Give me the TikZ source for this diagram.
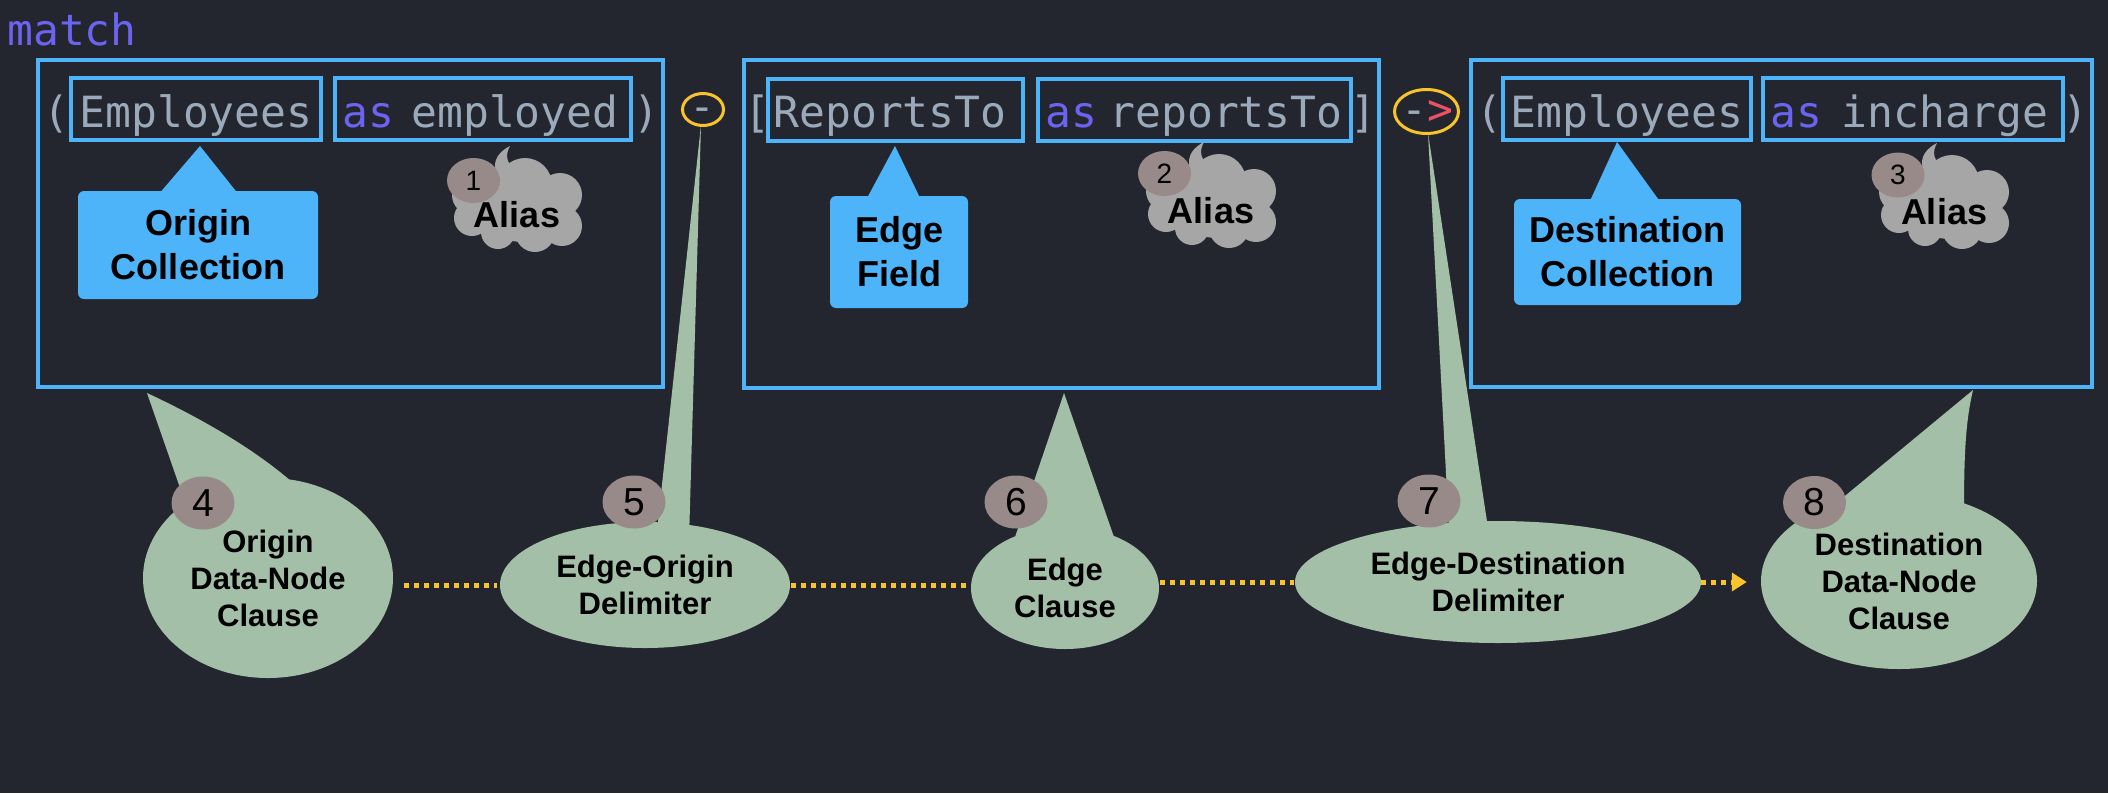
\documentclass[tikz,border=0pt]{standalone}
\usepackage{fontspec}
\setmainfont{Liberation Sans}
\newfontfamily\codefont{DejaVu Sans Mono}
\usetikzlibrary{shapes.geometric,arrows.meta,calc}
\definecolor{bg}{RGB}{35,38,46}
\definecolor{boxblue}{RGB}{77,180,250}
\definecolor{codegray}{RGB}{155,170,186}
\definecolor{kwpurple}{RGB}{108,100,240}
\definecolor{arrred}{RGB}{238,80,100}
\definecolor{delimyellow}{RGB}{248,195,45}
\definecolor{bubblegreen}{RGB}{163,191,168}
\definecolor{numcircle}{RGB}{153,138,138}
\definecolor{cloudgray}{RGB}{166,166,166}
\pgfdeclarelayer{backdrop}
\pgfdeclarelayer{wedges}
\pgfsetlayers{backdrop,wedges,main}
\tikzset{
  code/.style={font=\codefont\fontsize{43}{43}\selectfont, text=codegray, inner sep=0pt, anchor=base},
  kw/.style={code, text=kwpurple},
  bluebox/.style={draw=boxblue, line width=4pt, rectangle, inner sep=0pt},
  callout/.style={fill=boxblue, rectangle, rounded corners=6pt, inner sep=0pt, align=center,
    font=\bfseries\fontsize{36}{44}\selectfont, text=black},
  delimring/.style={draw=delimyellow, line width=3pt, inner sep=0pt, ellipse},
  bubble/.style={ellipse, fill=bubblegreen, inner sep=0pt, align=center,
    font=\bfseries\fontsize{31}{37}\selectfont, text=black},
  numtop/.style={ellipse, fill=numcircle, inner sep=0pt, minimum width=53pt, minimum height=45pt,
    font=\fontsize{28}{28}\selectfont, text=black},
  numbot/.style={ellipse, fill=numcircle, inner sep=0pt, minimum width=63pt, minimum height=53pt,
    font=\fontsize{39}{39}\selectfont, text=black},
  aliastext/.style={font=\bfseries\fontsize{36}{36}\selectfont, text=black, inner sep=0pt, anchor=base},
  dotline/.style={delimyellow, line width=5pt, dash pattern=on 5pt off 5pt},
}
% cloud drawn around a reference point (the Alias text centre of cloud 1 = (517,204))
\newcommand\DrawAliasCloud[2]{%
  \begin{scope}[shift={(#1,#2)}]
    \fill[cloudgray] (8,8) ellipse (50pt and 30pt);
    \fill[cloudgray] (8,-19) circle (27pt);
    \fill[cloudgray] (43,-9) circle (22pt);
    \fill[cloudgray] (45,22) circle (20pt);
    \fill[cloudgray] (18,28) circle (20pt);
    \fill[cloudgray] (-19,28) circle (17pt);
    \fill[cloudgray] (-45,14) circle (18pt);
    \fill[cloudgray] (-45,-9) circle (20pt);
    \fill[cloudgray] (-21,-15) circle (20pt);
    \fill[cloudgray] (-21,-32) .. controls (-25,-44) and (-17,-53) .. (-7,-58)
       .. controls (-12,-49) and (-11,-41) .. (-1,-34) -- cycle;
  \end{scope}}
\begin{document}
\begin{tikzpicture}[x=1pt,y=-1pt]
\useasboundingbox (0,0) rectangle (2108,793);
\begin{pgfonlayer}{backdrop}
\fill[bg] (0,0) rectangle (2108,793);
\end{pgfonlayer}

% keyword
\node[kw] (match) at (72,45) {match};

% outer boxes
\node[bluebox, minimum width=625pt, minimum height=327pt] (o1) at (350.5,223.5) {};
\node[bluebox, minimum width=635pt, minimum height=328pt] (o2) at (1061.5,224) {};
\node[bluebox, minimum width=621pt, minimum height=327pt] (o3) at (1781.5,223.5) {};

% inner boxes
\node[bluebox, minimum width=250pt, minimum height=62pt] (ia) at (196,109) {};
\node[bluebox, minimum width=296pt, minimum height=62pt] (ib) at (483,109) {};
\node[bluebox, minimum width=255pt, minimum height=62pt] (ic) at (895.5,110) {};
\node[bluebox, minimum width=313pt, minimum height=62pt] (id) at (1194.5,110) {};
\node[bluebox, minimum width=248pt, minimum height=62pt] (ie) at (1627,109) {};
\node[bluebox, minimum width=300pt, minimum height=62pt] (if) at (1913,109) {};

% code text
\node[code] (lp1) at (56,127) {(};
\node[code] (emp1) at (196,127) {Employees};
\node[kw] (as1) at (368,127) {as};
\node[code] (al1) at (515,127) {employed};
\node[code] (rp1) at (646,127) {)};
\node[code] (lb) at (757,127) {[};
\node[code] (rep) at (890,127) {ReportsTo};
\node[kw] (as2) at (1071,127) {as};
\node[code] (al2) at (1226,127) {reportsTo};
\node[code] (rb) at (1363,127) {]};
\node[code] (lp3) at (1489,127) {(};
\node[code] (emp3) at (1627,127) {Employees};
\node[kw] (as3) at (1796,127) {as};
\node[code] (al3) at (1945,127) {incharge};
\node[code] (rp3) at (2075,127) {)};

% delimiters
\node[delimring, minimum width=41pt, minimum height=32pt] (d1) at (703,109.5) {};
\node[code] (d1t) at (702,121) {-};
\node[delimring, minimum width=64pt, minimum height=44pt] (d2) at (1426.5,111.5) {};
\node[code] (d2t) at (1427,124) {-\textcolor{arrred}{>}};

% blue callouts
\node[callout, minimum width=240pt, minimum height=108pt] (oc) at (198,245) {Origin\\Collection};
\fill[boxblue] (200,146) -- (158,195) -- (239,195) -- cycle;
\node[callout, minimum width=138pt, minimum height=112pt] (ef) at (899,252) {Edge\\Field};
\fill[boxblue] (895,146) -- (866,200) -- (921,200) -- cycle;
\node[callout, minimum width=227pt, minimum height=106pt] (dc) at (1627.5,252) {Destination\\Collection};
\fill[boxblue] (1617,142) -- (1589,203) -- (1661,203) -- cycle;

% alias clouds
\DrawAliasCloud{517}{204}
\node[aliastext] (a1) at (517,227) {Alias};
\node[numtop] (n1) at (473.5,180.5) {1};

\DrawAliasCloud{1211}{200}
\node[aliastext] (a2) at (1211,223) {Alias};
\node[numtop] (n2) at (1164.5,173.5) {2};

\DrawAliasCloud{1944}{201}
\node[aliastext] (a3) at (1944,224) {Alias};
\node[numtop] (n3) at (1898,175) {3};

% bubbles
\node[bubble, minimum width=250pt, minimum height=200pt] (b4) at (268,578) {Origin\\Data-Node\\Clause};
\node[bubble, minimum width=290pt, minimum height=126pt] (b5) at (645,585) {Edge-Origin\\Delimiter};
\node[bubble, minimum width=188pt, minimum height=122pt] (b6) at (1065,588) {Edge\\Clause};
\node[bubble, minimum width=406pt, minimum height=122pt] (b7) at (1498,582) {Edge-Destination\\Delimiter};
\node[bubble, minimum width=276pt, minimum height=176pt] (b8) at (1899,581) {Destination\\Data-Node\\Clause};

% wedges
\begin{pgfonlayer}{wedges}
\fill[bubblegreen] (147,393) -- (186,505) -- (b4.center) -- (322,512) .. controls (280,462) and (205,420) .. cycle;
\fill[bubblegreen] (701,125) -- (656,540) -- (b5.center) -- (689,540) -- cycle;
\fill[bubblegreen] (1064,393) -- (1014,540) -- (b6.center) -- (1115,540) -- cycle;
\fill[bubblegreen] (1428,133) -- (1449,530) -- (b7.center) -- (1488,528) -- cycle;
\fill[bubblegreen] (1973,390) -- (1840,500) -- (b8.center) -- (1964,510) .. controls (1964,450) and (1966,420) .. cycle;
\end{pgfonlayer}

% number circles
\node[numbot] (n4) at (203,503) {4};
\node[numbot] (n5) at (634,502) {5};
\node[numbot] (n6) at (1016,502) {6};
\node[numbot] (n7) at (1429,501) {7};
\node[numbot] (n8) at (1814.5,502.5) {8};

% dotted connectors
\draw[dotline, shorten <=11pt, shorten >=3pt] (b4.east |- b5.west) -- (b5.west);
\draw[dotline, shorten <=1pt, shorten >=1pt] (b5.east) -- (b5.east -| b6.west);
\draw[dotline, shorten <=1pt, shorten >=1pt] (b6.east |- b7.west) -- (b7.west);
\draw[dotline, shorten >=14pt, -{Triangle[length=15pt,width=18pt]}] (b7.east) -- (b7.east -| b8.west);
\end{tikzpicture}
\end{document}
